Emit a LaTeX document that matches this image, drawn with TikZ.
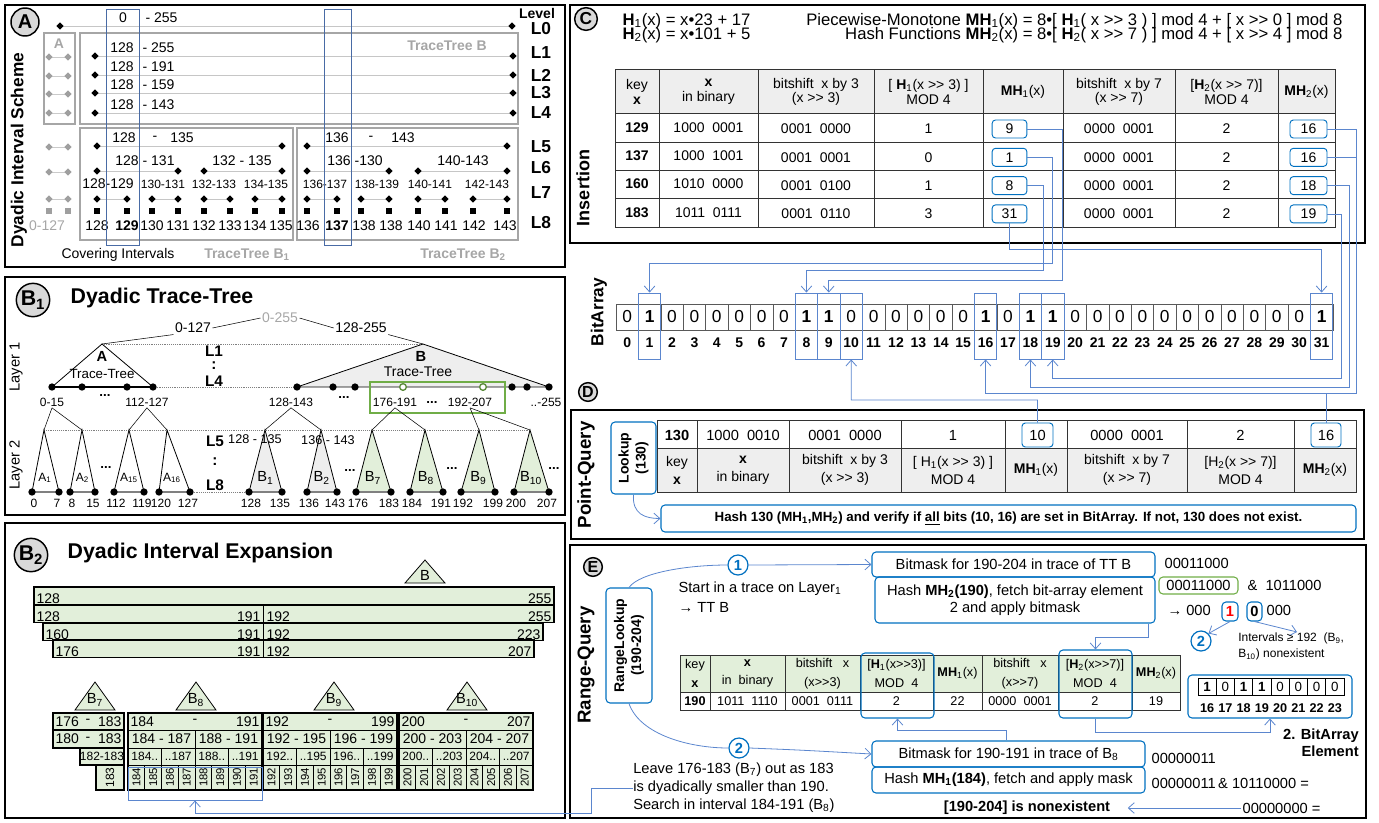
\documentclass[tikz,border=0pt]{standalone}
\usepackage{fontspec}
\usepackage{graphicx}
\setmainfont{Liberation Sans}[Ligatures=TeXOff]
\usetikzlibrary{arrows.meta,positioning,shapes.geometric}

\definecolor{lblue}{RGB}{91,134,206}
\definecolor{bblue}{RGB}{0,112,192}
\definecolor{lgreen}{RGB}{226,239,218}
\definecolor{dgreen}{RGB}{112,173,71}
\definecolor{lgray}{RGB}{166,166,166}
\definecolor{hgray}{RGB}{238,238,238}
\definecolor{cgray}{RGB}{217,217,217}

\newcommand{\fsz}[1]{\fontsize{#1}{\fpeval{1.2*#1}}\selectfont}

\tikzset{
  panel/.style={draw, line width=1.5pt},
  tag/.style={circle, draw, line width=1.1pt, fill=cgray, inner sep=0pt, minimum size=#1},
  tag/.default=20pt,
  vtitle/.style={rotate=90, font=\fsz{13}\bfseries},
  ttl/.style={anchor=west, font=\fsz{16}\bfseries},
  lvl/.style={font=\fsz{13}\bfseries},
  lvl2/.style={font=\fsz{11.5}\bfseries, inner sep=0pt},
  num/.style={inner sep=1pt, font=\fsz{10.5}},
  sml/.style={inner sep=1pt, font=\fsz{9}},
  gtxt/.style={inner sep=1pt, text=lgray, font=\fsz{10.5}\bfseries},
  gbox/.style={draw=lgray, line width=0.8pt},
  rowln/.style={draw=gray!45, line width=0.6pt},
  dia/.style={diamond, fill=black, inner sep=0pt, minimum size=5.5pt},
  gdia/.style={dia, fill=gray!75},
  sq/.style={rectangle, fill=black, inner sep=0pt, minimum size=4pt},
  gsq/.style={sq, fill=gray!75},
  colsel/.style={draw=lblue!80!black, line width=0.6pt},
  bdot/.style={circle, fill=black, inner sep=0pt, minimum size=5.5pt},
  gdot/.style={circle, draw=dgreen!80!black, fill=white, line width=1pt, inner sep=0pt, minimum size=5pt},
  tri/.style={draw, line width=0.6pt},
  ebar/.style={fill=lgreen, draw, line width=0.8pt},
  tgrid/.style={draw=black!80, line width=0.5pt},
  thd/.style={align=center, inner sep=0pt, font=\fsz{10.5}},
  tval/.style={inner sep=0pt, font=\fsz{10.5}},
  mhbox/.style={draw=bblue, rounded corners=2.5pt, line width=0.7pt, inner sep=0pt, minimum width=26pt, minimum height=13.5pt, font=\fsz{10.5}},
  bitcell/.style={draw=gray!70!black, inner sep=0pt, minimum width=16.8pt, minimum height=19.5pt, font=\fsz{13}},
  hlbox/.style={draw=lblue, line width=0.7pt, inner sep=0pt, minimum width=16.8pt, minimum height=49.5pt},
  link/.style={draw=lblue, line width=0.6pt},
  linkarr/.style={link, -{Straight Barb[length=4.5pt,width=8pt]}},
  rbox/.style={draw=bblue, rounded corners=3pt, line width=0.8pt, inner sep=2pt},
  numc/.style={circle, draw=bblue, fill=white, line width=0.9pt, inner sep=0pt, minimum size=15pt, text=bblue, font=\fsz{11}\bfseries},
  etxt/.style={inner sep=1pt, font=\fsz{11}}
}

\begin{document}
\begin{tikzpicture}[x=0.75pt,y=-0.75pt]
\useasboundingbox (0,0) rectangle (1379,822);

%%% A: dyadic interval scheme
\draw[panel] (5,5) rectangle (565,267);
\node[tag=21pt, font=\fsz{15}\bfseries] (tgA) at (25,22) {A};
\node[vtitle] (vtA) at (19,150) {Dyadic Interval Scheme};
\node[font=\fsz{10.5}\bfseries] (lvT) at (537,13) {Level};
\foreach \l/\y in {0/29,1/53,2/75,3/93,4/113,5/147,6/168,7/193,8/223}
  \node[lvl] (lv\l) at (541,\y) {L\l};
\draw[rowln] (60,26) -- (512,26);
\node[dia] (dl0) at (60,26) {};
\node[dia] (dr0) at (512,26) {};
\node[num] (tl0) at (123,18) {0};
\node[num, anchor=west] (tr0) at (144,18) {- 255};
\draw[gbox] (44,33) rectangle (75,124);
\node[gtxt] (gA) at (59,44) {A};
\draw[gbox] (80,33) rectangle (518,124);
\node[gtxt] (gB) at (447,46) {TraceTree B};
\foreach \y/\vv [count=\i] in {56/255,75/191,93/159,113/143} {
  \draw[rowln] (95,\y) -- (513,\y);
  \node[dia] (dl\i) at (95,\y) {};
  \node[dia] (dr\i) at (513,\y) {};
  \node[num] (tl\i) at (122,\y-8.5) {128};
  \node[num, anchor=west] (tr\i) at (141,\y-8.5) {- \vv};
}
% the A side, greyed out
\foreach \y [count=\i] in {57,76,94,113,147,172,199} {
  \draw[draw=lgray!60] (49,\y) -- (68,\y);
  \node[gdia] (ga\i) at (49,\y) {};
  \node[gdia] (gb\i) at (68,\y) {};
}
\node[gsq] (gs1) at (49,211) {};
\node[gsq] (gs2) at (68,211) {};
\node[num, text=lgray] (g0127) at (47,226) {0-127};
% levels 5 .. 8
\draw[gbox] (80,128) rectangle (293,240);
\draw[gbox] (297,128) rectangle (518,240);
\foreach \xa/\xb/\xc/\xd/\xe/\xf/\xg/\xh [count=\j] in {97/127/152/178/204/230/255/282, 307/337/361/389/418/445/473/507} {
  \draw[rowln] (\xa,146) -- (\xh,146);
  \draw[rowln] (\xa,171) -- (\xd,171);
  \draw[rowln] (\xe,171) -- (\xh,171);
  \foreach \p/\q in {\xa/\xb,\xc/\xd,\xe/\xf,\xg/\xh}
    \draw[rowln] (\p,199) -- (\q,199);
  \foreach \x [count=\k] in {\xa,\xh}
    \node[dia] (p5-\j-\k) at (\x,146) {};
  \foreach \x [count=\k] in {\xa,\xd,\xe,\xh}
    \node[dia] (p6-\j-\k) at (\x,171) {};
  \foreach \x [count=\k] in {\xa,\xb,\xc,\xd,\xe,\xf,\xg,\xh} {
    \node[dia] (p7-\j-\k) at (\x,199) {};
    \node[sq] (p8-\j-\k) at (\x,211) {};
  }
}
\node[num] (u5a) at (124,138) {128};
\node[num] (u5b) at (155,138) {-};
\node[num] (u5c) at (182,138) {135};
\node[num] (u6a) at (145,161) {128 - 131};
\node[num] (u6b) at (242,161) {132 - 135};
\node[num] (u7a) at (108,184) {128-129};
\node[num] (w5a) at (337,138) {136};
\node[num] (w5b) at (371,138) {-};
\node[num] (w5c) at (403,138) {143};
\node[num] (w6a) at (355,161) {136 -130};
\node[num] (w6b) at (463,161) {140-143};
\foreach \x/\tx [count=\i] in {163/130-131,214/132-133,266/134-135,325/136-137,377/138-139,430/140-141,487/142-143}
  \node[sml] (u7\i) at (\x,184) {\tx};
\foreach \x/\tx [count=\i] in {97/128,127/\textbf{129},152/130,178/131,204/132,230/133,255/134,281/135,308/136,337/\textbf{137},364/138,391/138,419/140,446/141,474/142,505/143}
  \node[num] (u8\i) at (\x,226) {\tx};
\draw[colsel] (106,9) rectangle (139,245);
\draw[colsel] (324,9) rectangle (351,245);
\node[num] (cov) at (118,255) {Covering Intervals};
\node[gtxt] (gB1) at (247,255) {TraceTree B\textsubscript{1}};
\node[gtxt] (gB2) at (463,255) {TraceTree B\textsubscript{2}};

%%% B1: dyadic trace-tree
\draw[panel] (5,277) rectangle (565,515);
\node[tag=25pt, font=\fsz{16}\bfseries] (tgB1) at (33,300) {B\textsubscript{1}};
\node[ttl] (ttB1) at (66,298) {Dyadic Trace-Tree};
\node[rotate=90, font=\fsz{11}] (ly1) at (16,367) {Layer 1};
\node[rotate=90, font=\fsz{11}] (ly2) at (16,465) {Layer 2};
\node[num] (r0127) at (193,328) {0-127};
\node[num, text=lgray] (r0255) at (280,318) {0-255};
\node[num] (r128255) at (361,328) {128-255};
\draw (r0127.east) -- (r0255.west);
\draw (r0255.east) -- (r128255.west);
\coordinate (apA) at (102,344);
\coordinate (apB) at (423,344);
\draw (r0127.south west) -- (apA);
\draw (r128255.south east) -- (apB);
\draw[densely dotted, gray] (apA) -- (apB);
\filldraw[tri, fill=hgray] (297,387) -- (apB) -- (549,387) -- cycle;
\draw[tri] (52,387) -- (apA) -- (153,387);
\draw[line width=0.8pt] (52,387) -- (153,387);
\draw[densely dotted, gray] (153,387) -- (297,387);
\node[font=\fsz{11}\bfseries] (nA) at (102,356) {A};
\node[font=\fsz{10}] (nAt) at (102,374) {Trace-Tree};
\node[font=\fsz{11}\bfseries] (nB) at (421,356) {B};
\node[font=\fsz{10.5}] (nBt) at (418,372) {Trace-Tree};
\node[draw=dgreen, line width=0.8pt, minimum width=101.25pt, minimum height=23.25pt, inner sep=0pt] (grp) at (437.5,397.5) {};
\foreach \x [count=\i] in {52,82,127,153,297,333,355,512,527,549}
  \node[bdot] (bd\i) at (\x,387) {};
\node[gdot] (gd1) at (403,387) {};
\node[gdot] (gd2) at (483,387) {};
\foreach \x/\tx/\nm in {52/0-15/s015, 147/112-127/s112, 291/128-143/s128, 395/176-191/s176, 470/192-207/s192, 546/..-255/s255}
  \node[sml] (\nm) at (\x,402) {\tx};
\foreach \x/\y [count=\i] in {105/395,344/397,432/402,106/467,350/470,452/468,554/468}
  \node[font=\fsz{10}\bfseries, inner sep=0pt] (el\i) at (\x,\y) {...};
\node[lvl2] (m1) at (214,351) {L1};
\node[lvl2] (m2) at (214,366) {:};
\node[lvl2] (m3) at (214,381) {L4};
\node[lvl2] (m4) at (215,441) {L5};
\node[lvl2] (m5) at (215,462) {:};
\node[lvl2] (m6) at (215,485) {L8};
% layer 2
\draw[densely dotted, gray] (44,430) -- (530,430);
\foreach \s/\pa/\pb in {s015/44/82, s112/129/167, s128/265/321, s176/372/425, s192/479/530} {
  \draw (\s.south) -- (\pa,430);
  \draw (\s.south) -- (\pb,430);
}
\draw[densely dotted, gray] (190,492) -- (249,492);
\foreach \xp/\xl/\xr/\fc/\lb/\na/\nb [count=\i] in {
    44/32/59/white/{\fsz{9}A\textsubscript{1}}/0/7,
    82/70/95/white/{\fsz{9}A\textsubscript{2}}/8/15,
    129/114/144/white/{\fsz{9}A\textsubscript{15}}/112/119,
    167/159/190/white/{\fsz{9}A\textsubscript{16}}/120/127,
    265/249/282/hgray/{\fsz{11}B\textsubscript{1}}/128/135,
    321/307/337/hgray/{\fsz{11}B\textsubscript{2}}/136/143,
    372/356/391/lgreen/{\fsz{11}B\textsubscript{7}}/176/183,
    425/410/443/lgreen/{\fsz{11}B\textsubscript{8}}/184/191,
    479/461/495/lgreen/{\fsz{11}B\textsubscript{9}}/192/199,
    530/514/549/lgreen/{\fsz{11}B\textsubscript{10}}/200/207} {
  \filldraw[tri, fill=\fc] (\xl,492) -- (\xp,430) -- (\xr,492);
  \draw[draw=gray, line width=0.8pt] (\xl,492) -- (\xr,492);
  \node[bdot] (kl\i) at (\xl,492) {};
  \node[bdot] (kr\i) at (\xr,492) {};
  \node[inner sep=0pt] (kn\i) at ({(\xp+\xl+\xr)/3},478) {\lb};
  \node[sml] (ka\i) at (\xl+2,503) {\na};
  \node[sml] (kb\i) at (\xr-2,503) {\nb};
}
\node[font=\fsz{9.5}, inner sep=0pt] (rB1) at (255,439) {128 - 135};
\node[font=\fsz{9.5}, inner sep=0pt] (rB2) at (328,440) {136 - 143};

%%% B2: dyadic interval expansion
\draw[panel] (5,523) rectangle (565,818);
\node[tag=25pt, font=\fsz{16}\bfseries] (tgB2) at (31,555) {B\textsubscript{2}};
\node[ttl] (ttB2) at (63,553) {Dyadic Interval Expansion};
\filldraw[tri, fill=lgreen] (405,583) -- (425,560) -- (445,583) -- cycle;
\node[font=\fsz{11}] (xB) at (425,575) {B};
\filldraw[ebar] (34,587) rectangle (554,605);
\node[num, anchor=base west] (x1a) at (35,603) {128};
\node[num, anchor=base east] (x1b) at (553,603) {255};
\foreach \xl/\xr/\yt/\va/\vb [count=\i] in {34/554/605/128/255, 43/543/623/160/223, 53/534/640/176/207} {
  \filldraw[ebar] (\xl,\yt) rectangle (\xr,\yt+17.5);
  \draw (263,\yt) -- (263,\yt+17.5);
  \node[num, anchor=base west] (xa\i) at (\xl+1,\yt+16) {\va};
  \node[num, anchor=base east] (xb\i) at (262,\yt+16) {191};
  \node[num, anchor=base west] (xc\i) at (265,\yt+16) {192};
  \node[num, anchor=base east] (xd\i) at (\xr-1,\yt+16) {\vb};
}
\foreach \xp/\lb [count=\i] in {95/7, 196/8, 334/9, 467/10} {
  \filldraw[tri, fill=lgreen] (\xp-20,710) -- (\xp,682) -- (\xp+20,710) -- cycle;
  \node[inner sep=0pt, font=\fsz{11}] (sb\i) at (\xp,700) {B\textsubscript{\lb}};
}
% B7, cut to the right
\filldraw[ebar] (53,713) rectangle (124,730);
\filldraw[ebar] (53,730) rectangle (124,748);
\filldraw[ebar] (80,748) rectangle (124,765);
\filldraw[ebar] (96,765) rectangle (124,790);
\node[num, anchor=west] (y1a) at (54,721.5) {176};
\node[num] (y1b) at (88,721.5) {-};
\node[num, anchor=east] (y1c) at (123,721.5) {183};
\node[num, anchor=west] (y2a) at (54,739) {180};
\node[num] (y2b) at (88,739) {-};
\node[num, anchor=east] (y2c) at (123,739) {183};
\node[sml] (y3) at (102,756.5) {182-183};
\node[sml, rotate=90] (y4) at (110,777.5) {183};
% B8, B9, B10
\foreach \xa/\vn [count=\j] in {128/184, 263/192, 399/200} {
  \pgfmathtruncatemacro\vc{\vn+3}
  \pgfmathtruncatemacro\vd{\vn+4}
  \pgfmathtruncatemacro\ve{\vn+7}
  \fill[lgreen] (\xa,713) rectangle ++(134,77);
  \foreach \y in {730,748,765} \draw[line width=0.5pt] (\xa,\y) -- ++(134,0);
  \draw[line width=0.5pt] (\xa+67,730) -- (\xa+67,790);
  \foreach \k in {1,3} \draw[line width=0.5pt] (\xa+33.5*\k,748) -- (\xa+33.5*\k,790);
  \foreach \k in {1,3,5,7} \draw[line width=0.5pt] (\xa+16.75*\k,765) -- (\xa+16.75*\k,790);
  \draw[line width=1.3pt] (\xa,713) rectangle ++(134,77);
  \node[num, anchor=west] (za\j) at (\xa+1,721.5) {\vn};
  \node[num] (zb\j) at (\xa+67,721.5) {-};
  \node[num, anchor=east] (zc\j) at (\xa+133,721.5) {\ve};
  \node[num] (zd\j) at (\xa+33.5,739) {\vn~-~\vc};
  \node[num] (ze\j) at (\xa+100.5,739) {\vd~-~\ve};
  \node[sml] (zf\j) at (\xa+16.75,756.5) {\vn..};
  \node[sml] (zg\j) at (\xa+50.25,756.5) {..\vc};
  \node[sml] (zh\j) at (\xa+83.75,756.5) {\vd..};
  \node[sml] (zi\j) at (\xa+117.25,756.5) {..\ve};
  \foreach \k in {0,...,7} {
    \pgfmathtruncatemacro\vr{\vn+\k}
    \node[font=\fsz{8.5}, rotate=90, inner sep=0pt] (zr\j-\k) at (\xa+8.375+16.75*\k,777.5) {\vr};
  }
}
\node[draw=lblue, line width=0.7pt, inner sep=0pt, minimum width=100.5pt, minimum height=24.75pt] (b8sel) at (195,783.5) {};

%%% C: insertion
\draw[panel] (570,5) rectangle (1365,243);
\node[tag=17pt, font=\fsz{13}\bfseries] (tgC) at (586,19) {C};
\node[vtitle, font=\fsz{13.5}\bfseries] (vtC) at (583,188) {Insertion};
\node[etxt, font=\fsz{12.5}, anchor=west] (eh1) at (621,21) {\textbf{H}\textsubscript{1}(x) = x•23 + 17};
\node[etxt, font=\fsz{12.5}, anchor=west] (eh2) at (621,35) {\textbf{H}\textsubscript{2}(x) = x•101 + 5};
\node[etxt, font=\fsz{12.5}, anchor=east] (emh1) at (1344,21) {Piecewise-Monotone \textbf{MH}\textsubscript{1}(x) = 8•[ \textbf{H}\textsubscript{1}( x >> 3 ) ] mod 4 + [ x >> 0 ] mod 8};
\node[etxt, font=\fsz{12.5}, anchor=east] (emh2) at (1344,35) {Hash Functions \textbf{MH}\textsubscript{2}(x) = 8•[ \textbf{H}\textsubscript{2}( x >> 7 ) ] mod 4 + [ x >> 4 ] mod 8};
\fill[hgray] (615,69) rectangle (1335,113);
\draw[tgrid] (615,69) rectangle (1335,227);
\foreach \y in {113,142,170,198} \draw[tgrid] (615,\y) -- (1335,\y);
\foreach \x in {659,758,874,983,1063,1175,1278} \draw[tgrid] (\x,69) -- (\x,227);
\foreach \x/\tx [count=\i] in {637/{key\\\textbf{x}}, 708.5/{\textbf{x}\\in binary}, 816/{bitshift~~x by 3\\(x >> 3)}, 928.5/{[ \textbf{H}\textsubscript{1}(x >> 3) ]\\MOD 4}, 1023/{\textbf{MH}\textsubscript{1}(x)}, 1119/{bitshift~~x by 7\\(x >> 7)}, 1226.5/{[\textbf{H}\textsubscript{2}(x >> 7)]\\MOD 4}, 1306.5/{\textbf{MH}\textsubscript{2}(x)}}
  \node[thd, font=\fontsize{10.5}{11}\selectfont] (chd\i) at (\x,92) {\tx};
\foreach \vk/\vbn/\vsh/\vha/\vma/\vsb/\vhb/\vmb [count=\i] in {129/1000~~0001/0001~~0000/1/9/0000~~0001/2/16, 137/1000~~1001/0001~~0001/0/1/0000~~0001/2/16, 160/1010~~0000/0001~~0100/1/8/0000~~0001/2/18, 183/1011~~0111/0001~~0110/3/31/0000~~0001/2/19} {
  \pgfmathsetmacro\yy{127.5+28.3*(\i-1)}
  \node[tval, font=\fsz{10.5}\bfseries] (ck\i) at (637,\yy) {\vk};
  \node[tval] (cb\i) at (708.5,\yy) {\vbn};
  \node[tval] (cs\i) at (816,\yy+1.5) {\vsh};
  \node[tval] (ch\i) at (928.5,\yy+1.5) {\vha};
  \node[mhbox] (mhA\i) at (1009.5,\yy+1.5) {\vma};
  \node[tval] (ct\i) at (1119,\yy+1.5) {\vsb};
  \node[tval] (cu\i) at (1226.5,\yy+1.5) {\vhb};
  \node[mhbox, minimum width=27.75pt] (mhB\i) at (1308.5,\yy+1.5) {\vmb};
}

%%% bit array
\node[vtitle] (vtBA) at (599,312) {BitArray};
\foreach \vb [count=\i from 0] in {0,1,0,0,0,0,0,0,1,1,0,0,0,0,0,0,1,0,1,1,0,0,0,0,0,0,0,0,0,0,0,1} {
  \node[bitcell] (bit\i) at ({627.2+22.4*\i},317) {\ifnum\vb=1 \textbf{1}\else 0\fi};
  \node[inner sep=0pt, font=\fsz{10.5}\bfseries] (bix\i) at ({627.2+22.4*\i},343) {\i};
}
\foreach \i in {1,8,9,10,16,18,19,31}
  \node[hlbox] (hl\i) at ({627.2+22.4*\i},326) {};
\node[tag=14pt, font=\fsz{12}\bfseries] (tgD) at (588,392) {D};

%%% D: point query
\draw[panel] (571,410) rectangle (1364,539);
\node[vtitle, font=\fsz{14}\bfseries] (vtD) at (586,475) {Point-Query};
\node[rbox, rotate=90, minimum width=54pt, minimum height=33.75pt, align=center, font=\fsz{10.5}\bfseries] (lk) at (633.5,458) {Lookup\\(130)};
\fill[hgray] (657,448) rectangle (1356,492);
\draw[tgrid] (657,420) rectangle (1356,492);
\draw[tgrid] (657,448) -- (1356,448);
\foreach \x in {697,789,901,1005,1067,1187,1294} \draw[tgrid] (\x,420) -- (\x,492);
\foreach \x/\tx [count=\i] in {677/\textbf{130}, 743/1000~~0010, 845/0001~~0000, 953/1, 1127/0000~~0001, 1240.5/2}
  \node[tval, font=\fsz{11}] (dv\i) at (\x,435) {\tx};
\node[mhbox, minimum width=23.25pt, minimum height=18pt, font=\fsz{11}] (dq10) at (1037.5,435) {10};
\node[mhbox, minimum width=22.5pt, minimum height=18pt, font=\fsz{11}] (dq16) at (1326,435) {16};
\foreach \x/\tx [count=\i] in {677/{key\\\textbf{x}}, 743/{\textbf{x}\\in binary}, 845/{bitshift~~x by 3\\(x >> 3)}, 953/{[ H\textsubscript{1}(x >> 3) ]\\MOD 4}, 1036/{\textbf{MH}\textsubscript{1}(x)}, 1127/{bitshift~~x by 7\\(x >> 7)}, 1240.5/{[H\textsubscript{2}(x >> 7)]\\MOD 4}, 1325/{\textbf{MH}\textsubscript{2}(x)}}
  \node[thd, font=\fontsize{10.5}{13.5}\selectfont] (dh\i) at (\x,470) {\tx};
\node[rbox, minimum width=521.25pt, minimum height=20.25pt, font=\fsz{10}\bfseries] (hq) at (1008.5,518.5) {Hash 130 (MH\textsubscript{1},MH\textsubscript{2}) and verify if \underline{all} bits (10, 16) are set in BitArray. If not, 130 does not exist.};
\draw[linkarr] (lk.west) .. controls (632,514) and (645,518.5) .. (hq.west);

%%% E: range query
\draw[panel] (570,545) rectangle (1366,818);
\node[tag=14pt, font=\fsz{12}\bfseries] (tgE) at (593,567) {E};
\node[vtitle, font=\fsz{14}\bfseries] (vtE) at (586,665) {Range-Query};
\node[rbox, rotate=90, minimum width=86.25pt, minimum height=34.5pt, align=center, font=\fsz{10.5}\bfseries] (rl) at (629,645.5) {RangeLookup\\(190-204)};
\node[numc] (c1) at (738,565) {1};
\node[numc] (c2) at (739,748) {2};
\node[etxt, anchor=west] (st1) at (677,589) {Start in a trace on Layer\textsubscript{1}};
\node[etxt, anchor=west] (st2) at (677,607) {→ TT B};
\node[rbox, minimum width=212.25pt, minimum height=18.75pt, font=\fsz{11}] (bm1) at (1013.5,564.5) {Bitmask for 190-204 in trace of TT B};
\node[rbox, minimum width=210pt, minimum height=34.5pt, align=center, font=\fsz{11}] (hs1) at (1015,600) {Hash \textbf{MH\textsubscript{2}(190)}, fetch bit-array element\\2 and apply bitmask};
\node[rbox, minimum width=204.75pt, minimum height=19.5pt, font=\fsz{11}] (bm2) at (1008.5,754) {Bitmask for 190-191 in trace of B\textsubscript{8}};
\node[rbox, minimum width=204.75pt, minimum height=19.5pt, font=\fsz{11}] (hs2) at (1008.5,780) {Hash \textbf{MH\textsubscript{1}(184)}, fetch and apply mask};
\draw[link] (rl.east) .. controls (640,572) and (690,565) .. (c1.west);
\draw[linkarr] (c1.east) -- (bm1.west);
\draw[link] (rl.west) .. controls (640,735) and (690,748) .. (c2.west);
\draw[linkarr] (c2.east) .. controls (800,750) .. (bm2.west);
% table for key 190
\fill[lgreen] (680,655) rectangle (1180,692);
\draw[tgrid] (680,655) rectangle (1180,710);
\draw[tgrid] (680,692) -- (1180,692);
\foreach \x in {710,785,860,933,982,1058,1132} \draw[tgrid] (\x,655) -- (\x,710);
\foreach \x/\tx [count=\i] in {695/{key\\\textbf{x}}, 747.5/{\textbf{x}\\in~~binary}, 822.5/{bitshift~~~x\\(x>>3)}, 896.5/{[\textbf{H}\textsubscript{1}(x>>3)]\\MOD~~4}, 957.5/{\textbf{MH}\textsubscript{1}(x)}, 1020/{bitshift~~~x\\(x>>7)}, 1095/{[\textbf{H}\textsubscript{2}(x>>7)]\\MOD~~4}, 1156/{\textbf{MH}\textsubscript{2}(x)}}
  \node[thd, font=\fontsize{9.5}{14}\selectfont] (ehd\i) at (\x,673.5) {\tx};
\foreach \x/\tx [count=\i] in {695/\textbf{190}, 747.5/1011~~1110, 822.5/0001~~0111, 896.5/2, 957.5/22, 1020/0000~~0001, 1095/2, 1156/19}
  \node[tval, font=\fsz{9.5}] (ev\i) at (\x,701) {\tx};
\node[rbox, inner sep=0pt, minimum width=54.75pt, minimum height=48.75pt] (h1hl) at (897.5,685.5) {};
\node[rbox, inner sep=0pt, minimum width=54.75pt, minimum height=51pt] (h2hl) at (1095.5,684) {};
% bitmask arithmetic
\node[etxt, anchor=west] (mk1) at (1163,563) {00011000};
\node[draw=dgreen, rounded corners=3pt, line width=0.8pt, inner sep=1pt, minimum width=59.25pt, minimum height=12.75pt, font=\fsz{11}] (mk2) at (1198.5,585.5) {00011000};
\node[etxt, anchor=west] (mk3) at (1246,585) {\&~~1011000};
\node[etxt, anchor=west] (mk4) at (1166,610) {→ 000};
\node[rbox, inner sep=0pt, minimum width=12pt, minimum height=14.25pt, text=red, font=\fsz{11}\bfseries] (bx1) at (1230,611.5) {1};
\node[rbox, inner sep=0pt, minimum width=11.25pt, minimum height=14.25pt, font=\fsz{11}\bfseries] (bx0) at (1254.5,611.5) {0};
\node[etxt, anchor=west] (mk5) at (1265,610) {000};
\node[numc] (c3) at (1201,641) {2};
\coordinate (ivp) at (1297,632);
\draw[linkarr] (bx1.south) -- (c3.north east);
\draw[linkarr] (bx0.south) -- (ivp);
\node[anchor=north west, align=left, inner sep=0pt, font=\fontsize{9}{12}\selectfont] (ivt) at (1238,633) {Intervals ≥ 192~~(B\textsubscript{9},\\B\textsubscript{10}) nonexistent};
\draw[linkarr] ([xshift=-5.25pt]hs1.south east) |- ([yshift=9pt]h2hl.north) -- (h2hl.north);
% element of the bit array
\node[rbox, minimum width=123pt, minimum height=32.25pt, inner sep=0pt] (bae) at (1270,696.5) {};
\foreach \vb [count=\i from 0] in {1,0,1,1,0,0,0,0} {
  \pgfmathtruncatemacro\vr{16+\i}
  \node[draw, inner sep=0pt, minimum width=13.69pt, minimum height=12.75pt, font=\fsz{10}] (ec\i) at ({1207.1+18.25*\i},686.5) {\ifnum\vb=1 \textbf{1}\else 0\fi};
  \node[inner sep=0pt, font=\fsz{9.5}\bfseries] (en\i) at ({1207.1+18.25*\i},708) {\vr};
}
\draw[linkarr] (h2hl.south) |- ([yshift=-10.5pt]bae.south) -- (bae.south);
\node[anchor=north east, align=right, inner sep=0pt, font=\fontsize{11}{12.5}\selectfont\bfseries] (bal) at (1359,729) {2. BitArray\\Element};
\draw[linkarr] ([xshift=101.25pt]bm2.north west) |- ([yshift=-9pt]h1hl.south) -- (h1hl.south);
\node[etxt, anchor=west] (mk6) at (1150,758) {00000011};
\node[etxt, anchor=west] (mk7) at (1150,783) {00000011\,\&~10110000 =};
\node[font=\fsz{11}\bfseries, inner sep=1pt] (nonex) at (1027,808) {[190-204] is nonexistent};
\node[etxt, anchor=west] (zeros) at (1241,808) {00000000 =};
\draw[linkarr] (zeros.west) -- ([xshift=12pt]nonex.east);
\node[anchor=west, align=left, inner sep=0pt, font=\fontsize{11}{13.5}\selectfont] (leave) at (633,788) {Leave 176-183 (B\textsubscript{7}) out as 183\\is dyadically smaller than 190.\\Search in interval 184-191 (B\textsubscript{8})};
\draw[linkarr] (leave.west) -| (591,813) -| (b8sel.south);

%%% hash values into the bit array
\draw[linkarr] (mhA1.east) -| (1062,280) -| (hl9.north);
\draw[linkarr] (mhA2.east) -| (1052,263) -| (hl1.north);
\draw[linkarr] (mhA3.east) -| (1043,270) -| (hl8.north);
\draw[linkarr] (mhA4.south) |- (1009.5,249) -| (hl31.north);
\draw[linkarr] (mhB1.east) -| (1356,393) -| (hl16.south);
\draw[link] (mhB2.east) -- ++(29,0);
\draw[linkarr] (mhB3.east) -| (1349,387) -| (hl18.south);
\draw[linkarr] (mhB4.east) -| (1341,378) -| (hl19.south);
\draw[linkarr] (dq10.north) |- (851.2,400) -- (hl10.south);
\draw[link] (dq16.north) -- ++(0,-30);
\end{tikzpicture}
\end{document}
